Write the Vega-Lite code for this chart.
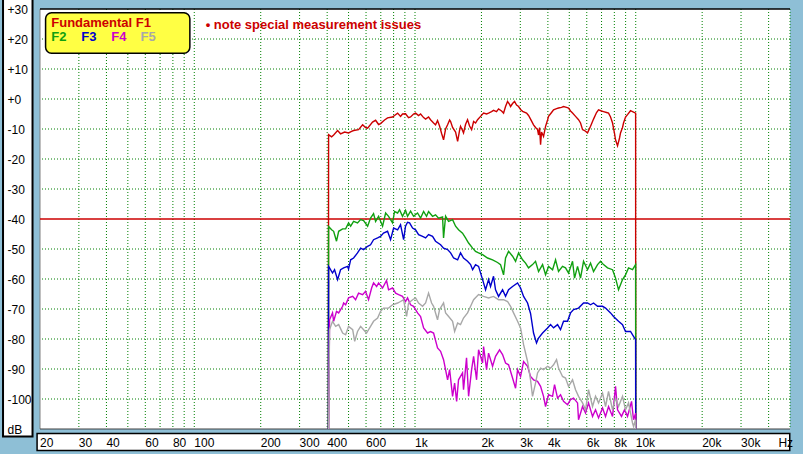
{
"$schema": "https://vega.github.io/schema/vega-lite/v6.json",
"width": 750, "height": 420,
"autosize": {"type": "none"},
"padding": {"left": 40, "top": 9, "right": 13, "bottom": 25},
"background": "#8ebfd6",
"config": {"view": {"fill": "white", "stroke": null}, "font": "Liberation Sans"},
"datasets": {
"F1": [{"f":405,"db":-120},{"f":406,"db":-11.9},{"f":419,"db":-12.6},{"f":428,"db":-12.0},{"f":446,"db":-10.5},{"f":460,"db":-11.6},{"f":480,"db":-11.0},{"f":500,"db":-11.3},{"f":516,"db":-10.8},{"f":527,"db":-10.5},{"f":555,"db":-10.2},{"f":579,"db":-8.6},{"f":597,"db":-9.5},{"f":610,"db":-9.7},{"f":642,"db":-7.7},{"f":663,"db":-7.1},{"f":684,"db":-8.5},{"f":698,"db":-8.2},{"f":728,"db":-7.0},{"f":751,"db":-6.3},{"f":791,"db":-6.0},{"f":808,"db":-5.5},{"f":834,"db":-4.7},{"f":860,"db":-5.8},{"f":878,"db":-5.0},{"f":906,"db":-4.9},{"f":935,"db":-6.2},{"f":955,"db":-6.0},{"f":985,"db":-5.0},{"f":1006,"db":-4.7},{"f":1038,"db":-5.5},{"f":1060,"db":-5.0},{"f":1094,"db":-6.2},{"f":1117,"db":-6.7},{"f":1152,"db":-6.0},{"f":1176,"db":-6.9},{"f":1214,"db":-8.0},{"f":1239,"db":-8.6},{"f":1265,"db":-7.2},{"f":1292,"db":-9.0},{"f":1320,"db":-11.5},{"f":1347,"db":-13.6},{"f":1376,"db":-10.0},{"f":1405,"db":-8.6},{"f":1435,"db":-7.0},{"f":1450,"db":-7.5},{"f":1480,"db":-9.5},{"f":1527,"db":-11.0},{"f":1560,"db":-14.1},{"f":1592,"db":-10.5},{"f":1608,"db":-9.1},{"f":1642,"db":-10.5},{"f":1659,"db":-11.3},{"f":1694,"db":-8.5},{"f":1730,"db":-6.9},{"f":1767,"db":-9.0},{"f":1805,"db":-10.2},{"f":1843,"db":-7.5},{"f":1881,"db":-8.0},{"f":1921,"db":-6.9},{"f":1982,"db":-5.8},{"f":2045,"db":-4.7},{"f":2110,"db":-5.0},{"f":2154,"db":-4.7},{"f":2222,"db":-4.2},{"f":2269,"db":-3.8},{"f":2341,"db":-4.2},{"f":2391,"db":-3.3},{"f":2467,"db":-4.0},{"f":2519,"db":-4.7},{"f":2572,"db":-2.5},{"f":2626,"db":-0.8},{"f":2682,"db":-1.8},{"f":2710,"db":-2.5},{"f":2767,"db":-1.5},{"f":2825,"db":-0.8},{"f":2885,"db":-2.0},{"f":2946,"db":-2.5},{"f":3008,"db":-3.5},{"f":3072,"db":-4.1},{"f":3202,"db":-4.7},{"f":3269,"db":-5.5},{"f":3338,"db":-6.7},{"f":3444,"db":-8.6},{"f":3516,"db":-9.5},{"f":3591,"db":-10.2},{"f":3629,"db":-12.0},{"f":3667,"db":-9.5},{"f":3706,"db":-15.2},{"f":3744,"db":-11.0},{"f":3823,"db":-12.5},{"f":3904,"db":-9.1},{"f":3986,"db":-7.0},{"f":4028,"db":-5.8},{"f":4156,"db":-4.5},{"f":4244,"db":-3.6},{"f":4378,"db":-3.2},{"f":4470,"db":-3.0},{"f":4612,"db":-2.8},{"f":4709,"db":-2.5},{"f":4859,"db":-2.8},{"f":4962,"db":-3.0},{"f":5067,"db":-4.0},{"f":5173,"db":-4.7},{"f":5338,"db":-5.8},{"f":5507,"db":-6.9},{"f":5623,"db":-8.0},{"f":5742,"db":-10.2},{"f":5863,"db":-10.5},{"f":6049,"db":-11.3},{"f":6242,"db":-9.1},{"f":6440,"db":-6.7},{"f":6645,"db":-4.5},{"f":6785,"db":-3.6},{"f":7001,"db":-4.0},{"f":7148,"db":-4.2},{"f":7375,"db":-4.5},{"f":7531,"db":-4.7},{"f":7690,"db":-6.0},{"f":7852,"db":-8.0},{"f":8018,"db":-11.5},{"f":8101,"db":-13.6},{"f":8272,"db":-15.6},{"f":8446,"db":-13.0},{"f":8534,"db":-11.3},{"f":8714,"db":-9.5},{"f":8805,"db":-8.0},{"f":8991,"db":-6.0},{"f":9180,"db":-5.2},{"f":9473,"db":-3.9},{"f":9672,"db":-4.2},{"f":9990,"db":-4.7},{"f":10000,"db":-120}],
"F2": [{"f":405,"db":-120},{"f":406,"db":-42.5},{"f":419,"db":-43.6},{"f":428,"db":-44.1},{"f":441,"db":-47.4},{"f":451,"db":-44.1},{"f":470,"db":-43.3},{"f":485,"db":-43.3},{"f":500,"db":-41.3},{"f":511,"db":-42.4},{"f":527,"db":-40.8},{"f":549,"db":-41.3},{"f":567,"db":-40.2},{"f":585,"db":-40.5},{"f":610,"db":-42.4},{"f":629,"db":-39.7},{"f":649,"db":-38.2},{"f":663,"db":-40.8},{"f":684,"db":-39.1},{"f":713,"db":-42.4},{"f":736,"db":-38.0},{"f":759,"db":-39.1},{"f":791,"db":-41.3},{"f":808,"db":-37.5},{"f":834,"db":-38.0},{"f":851,"db":-36.9},{"f":878,"db":-39.1},{"f":906,"db":-37.1},{"f":925,"db":-39.1},{"f":955,"db":-37.4},{"f":985,"db":-39.1},{"f":1027,"db":-38.0},{"f":1060,"db":-39.7},{"f":1094,"db":-37.5},{"f":1128,"db":-39.1},{"f":1152,"db":-37.5},{"f":1201,"db":-39.1},{"f":1239,"db":-38.6},{"f":1279,"db":-39.7},{"f":1333,"db":-39.3},{"f":1347,"db":-46.3},{"f":1376,"db":-39.1},{"f":1420,"db":-40.8},{"f":1480,"db":-40.2},{"f":1527,"db":-42.4},{"f":1575,"db":-43.6},{"f":1642,"db":-44.7},{"f":1694,"db":-46.3},{"f":1749,"db":-48.0},{"f":1824,"db":-49.7},{"f":1881,"db":-50.8},{"f":1941,"db":-51.3},{"f":2024,"db":-51.9},{"f":2132,"db":-53.0},{"f":2246,"db":-53.6},{"f":2366,"db":-54.5},{"f":2441,"db":-55.2},{"f":2519,"db":-58.6},{"f":2572,"db":-53.0},{"f":2654,"db":-50.8},{"f":2767,"db":-52.4},{"f":2855,"db":-54.1},{"f":2946,"db":-51.3},{"f":3072,"db":-53.6},{"f":3169,"db":-54.7},{"f":3269,"db":-56.3},{"f":3408,"db":-55.2},{"f":3516,"db":-54.1},{"f":3629,"db":-57.5},{"f":3784,"db":-55.2},{"f":3904,"db":-58.6},{"f":4028,"db":-55.8},{"f":4200,"db":-56.9},{"f":4333,"db":-53.6},{"f":4470,"db":-57.5},{"f":4660,"db":-55.8},{"f":4808,"db":-56.3},{"f":4962,"db":-58.0},{"f":5173,"db":-54.1},{"f":5283,"db":-59.7},{"f":5450,"db":-55.8},{"f":5623,"db":-59.7},{"f":5802,"db":-54.1},{"f":6049,"db":-56.9},{"f":6242,"db":-54.7},{"f":6440,"db":-57.5},{"f":6715,"db":-55.2},{"f":6928,"db":-54.1},{"f":7148,"db":-55.2},{"f":7453,"db":-56.3},{"f":7852,"db":-56.9},{"f":8101,"db":-59.7},{"f":8358,"db":-63.6},{"f":8714,"db":-60.2},{"f":8991,"db":-58.6},{"f":9277,"db":-56.3},{"f":9672,"db":-56.9},{"f":9990,"db":-55.2},{"f":10000,"db":-120}],
"F3": [{"f":405,"db":-120},{"f":406,"db":-55.8},{"f":410,"db":-56.3},{"f":423,"db":-58.0},{"f":432,"db":-56.9},{"f":446,"db":-60.2},{"f":460,"db":-56.9},{"f":475,"db":-56.3},{"f":495,"db":-55.8},{"f":500,"db":-56.7},{"f":511,"db":-53.6},{"f":527,"db":-53.0},{"f":549,"db":-51.3},{"f":567,"db":-49.7},{"f":585,"db":-50.2},{"f":610,"db":-49.1},{"f":629,"db":-48.6},{"f":649,"db":-46.9},{"f":677,"db":-46.3},{"f":698,"db":-45.8},{"f":720,"db":-44.7},{"f":751,"db":-44.1},{"f":775,"db":-46.9},{"f":800,"db":-43.0},{"f":834,"db":-43.6},{"f":860,"db":-41.9},{"f":888,"db":-46.9},{"f":906,"db":-42.4},{"f":925,"db":-41.1},{"f":945,"db":-41.3},{"f":975,"db":-43.0},{"f":1006,"db":-43.6},{"f":1038,"db":-45.2},{"f":1082,"db":-45.8},{"f":1117,"db":-46.3},{"f":1152,"db":-45.2},{"f":1201,"db":-45.8},{"f":1239,"db":-47.4},{"f":1306,"db":-48.6},{"f":1347,"db":-49.7},{"f":1405,"db":-50.2},{"f":1450,"db":-51.3},{"f":1496,"db":-53.0},{"f":1560,"db":-53.6},{"f":1608,"db":-51.3},{"f":1659,"db":-53.0},{"f":1730,"db":-54.1},{"f":1786,"db":-55.2},{"f":1824,"db":-56.9},{"f":1881,"db":-55.2},{"f":1941,"db":-55.8},{"f":2024,"db":-60.2},{"f":2088,"db":-63.6},{"f":2154,"db":-60.2},{"f":2199,"db":-62.5},{"f":2269,"db":-59.1},{"f":2317,"db":-63.6},{"f":2391,"db":-65.8},{"f":2493,"db":-63.6},{"f":2572,"db":-65.8},{"f":2654,"db":-63.6},{"f":2767,"db":-62.5},{"f":2915,"db":-61.3},{"f":3008,"db":-63.0},{"f":3104,"db":-65.8},{"f":3236,"db":-68.0},{"f":3338,"db":-71.5},{"f":3444,"db":-78.0},{"f":3553,"db":-81.3},{"f":3629,"db":-79.7},{"f":3784,"db":-78.0},{"f":3986,"db":-76.3},{"f":4113,"db":-75.2},{"f":4244,"db":-76.3},{"f":4424,"db":-75.2},{"f":4564,"db":-76.9},{"f":4709,"db":-74.1},{"f":4910,"db":-74.1},{"f":5067,"db":-71.3},{"f":5228,"db":-70.2},{"f":5507,"db":-69.7},{"f":5802,"db":-68.0},{"f":6049,"db":-68.0},{"f":6242,"db":-68.6},{"f":6440,"db":-68.0},{"f":6715,"db":-69.1},{"f":7074,"db":-69.1},{"f":7299,"db":-69.7},{"f":7690,"db":-71.3},{"f":7934,"db":-72.5},{"f":8358,"db":-74.1},{"f":8714,"db":-75.2},{"f":8991,"db":-77.5},{"f":9473,"db":-77.5},{"f":9773,"db":-79.1},{"f":9990,"db":-80.2},{"f":10000,"db":-120}],
"F4": [{"f":405,"db":-120},{"f":410,"db":-73.6},{"f":423,"db":-71.3},{"f":428,"db":-74.1},{"f":441,"db":-70.8},{"f":451,"db":-71.3},{"f":470,"db":-69.1},{"f":475,"db":-68.0},{"f":485,"db":-68.6},{"f":500,"db":-66.3},{"f":522,"db":-65.8},{"f":538,"db":-66.9},{"f":555,"db":-64.7},{"f":579,"db":-65.2},{"f":597,"db":-64.1},{"f":616,"db":-66.9},{"f":636,"db":-63.0},{"f":649,"db":-61.3},{"f":670,"db":-62.5},{"f":684,"db":-61.3},{"f":713,"db":-63.0},{"f":743,"db":-60.5},{"f":759,"db":-63.6},{"f":791,"db":-63.0},{"f":817,"db":-64.7},{"f":843,"db":-65.2},{"f":878,"db":-65.8},{"f":906,"db":-67.5},{"f":925,"db":-66.3},{"f":955,"db":-68.6},{"f":985,"db":-69.1},{"f":1027,"db":-71.3},{"f":1060,"db":-72.5},{"f":1094,"db":-76.3},{"f":1140,"db":-78.0},{"f":1176,"db":-77.5},{"f":1214,"db":-78.0},{"f":1265,"db":-83.0},{"f":1306,"db":-84.1},{"f":1347,"db":-86.9},{"f":1405,"db":-93.6},{"f":1435,"db":-90.2},{"f":1480,"db":-99.1},{"f":1512,"db":-94.7},{"f":1544,"db":-100.8},{"f":1575,"db":-93.6},{"f":1642,"db":-91.3},{"f":1659,"db":-96.9},{"f":1712,"db":-86.3},{"f":1749,"db":-99.1},{"f":1805,"db":-90.2},{"f":1843,"db":-85.8},{"f":1901,"db":-93.6},{"f":1941,"db":-83.6},{"f":2024,"db":-88.0},{"f":2045,"db":-82.5},{"f":2110,"db":-90.2},{"f":2154,"db":-84.7},{"f":2246,"db":-89.1},{"f":2317,"db":-85.8},{"f":2416,"db":-83.6},{"f":2493,"db":-85.2},{"f":2572,"db":-88.0},{"f":2654,"db":-88.6},{"f":2767,"db":-93.0},{"f":2855,"db":-96.4},{"f":2915,"db":-90.2},{"f":3008,"db":-92.5},{"f":3104,"db":-87.5},{"f":3236,"db":-89.1},{"f":3338,"db":-92.5},{"f":3444,"db":-93.6},{"f":3591,"db":-94.1},{"f":3706,"db":-95.8},{"f":3823,"db":-99.1},{"f":3904,"db":-102.5},{"f":4028,"db":-98.6},{"f":4200,"db":-99.1},{"f":4288,"db":-95.2},{"f":4424,"db":-99.7},{"f":4564,"db":-98.6},{"f":4709,"db":-100.8},{"f":4910,"db":-101.9},{"f":5067,"db":-100.2},{"f":5228,"db":-99.7},{"f":5450,"db":-101.3},{"f":5507,"db":-106.9},{"f":5742,"db":-102.5},{"f":5924,"db":-104.7},{"f":6113,"db":-101.3},{"f":6373,"db":-105.8},{"f":6576,"db":-103.6},{"f":6785,"db":-106.3},{"f":7074,"db":-103.0},{"f":7299,"db":-105.8},{"f":7531,"db":-102.5},{"f":7852,"db":-105.8},{"f":8101,"db":-95.8},{"f":8272,"db":-103.6},{"f":8624,"db":-105.8},{"f":8898,"db":-103.6},{"f":9180,"db":-105.8},{"f":9572,"db":-100.8},{"f":9773,"db":-106.9},{"f":9990,"db":-104.7},{"f":10000,"db":-120}],
"F5": [{"f":405,"db":-120},{"f":410,"db":-76.9},{"f":423,"db":-74.1},{"f":437,"db":-75.8},{"f":451,"db":-75.2},{"f":470,"db":-78.0},{"f":485,"db":-78.6},{"f":500,"db":-75.8},{"f":522,"db":-76.9},{"f":533,"db":-80.8},{"f":549,"db":-77.5},{"f":567,"db":-75.8},{"f":585,"db":-76.9},{"f":603,"db":-78.0},{"f":629,"db":-75.8},{"f":649,"db":-74.1},{"f":677,"db":-73.0},{"f":698,"db":-70.8},{"f":720,"db":-69.7},{"f":759,"db":-69.7},{"f":791,"db":-68.6},{"f":834,"db":-68.0},{"f":860,"db":-67.5},{"f":888,"db":-66.9},{"f":916,"db":-72.5},{"f":935,"db":-68.0},{"f":975,"db":-66.9},{"f":1006,"db":-66.3},{"f":1038,"db":-68.0},{"f":1082,"db":-69.1},{"f":1117,"db":-68.0},{"f":1152,"db":-64.7},{"f":1189,"db":-68.0},{"f":1214,"db":-69.1},{"f":1265,"db":-73.6},{"f":1292,"db":-70.2},{"f":1347,"db":-68.0},{"f":1376,"db":-71.3},{"f":1420,"db":-72.5},{"f":1480,"db":-74.1},{"f":1512,"db":-77.5},{"f":1560,"db":-74.7},{"f":1608,"db":-75.2},{"f":1659,"db":-73.0},{"f":1730,"db":-71.3},{"f":1786,"db":-69.1},{"f":1843,"db":-66.9},{"f":1941,"db":-65.2},{"f":2045,"db":-65.8},{"f":2154,"db":-66.3},{"f":2269,"db":-65.8},{"f":2391,"db":-66.9},{"f":2519,"db":-66.9},{"f":2626,"db":-67.5},{"f":2710,"db":-69.1},{"f":2796,"db":-71.3},{"f":2915,"db":-74.1},{"f":3008,"db":-76.3},{"f":3104,"db":-81.9},{"f":3236,"db":-87.5},{"f":3338,"db":-93.6},{"f":3408,"db":-99.1},{"f":3516,"db":-94.7},{"f":3591,"db":-91.3},{"f":3706,"db":-89.7},{"f":3823,"db":-90.2},{"f":3986,"db":-89.1},{"f":4113,"db":-89.7},{"f":4244,"db":-88.6},{"f":4378,"db":-86.9},{"f":4470,"db":-89.7},{"f":4660,"db":-92.5},{"f":4808,"db":-93.0},{"f":4962,"db":-95.8},{"f":5173,"db":-93.6},{"f":5338,"db":-96.9},{"f":5507,"db":-99.1},{"f":5742,"db":-101.3},{"f":5924,"db":-103.6},{"f":6113,"db":-96.9},{"f":6373,"db":-102.5},{"f":6576,"db":-99.1},{"f":6785,"db":-101.3},{"f":7074,"db":-98.0},{"f":7299,"db":-102.5},{"f":7531,"db":-97.5},{"f":7852,"db":-103.6},{"f":8101,"db":-99.7},{"f":8358,"db":-102.5},{"f":8714,"db":-99.1},{"f":8991,"db":-103.6},{"f":9277,"db":-101.3},{"f":9672,"db":-108.0},{"f":9773,"db":-109.1},{"f":9990,"db":-106.9},{"f":10000,"db":-120}],
"ylabels": [{"v":30,"t":"+30"},{"v":20,"t":"+20"},{"v":10,"t":"+10"},{"v":0,"t":"+0"},{"v":-10,"t":"-10"},{"v":-20,"t":"-20"},{"v":-30,"t":"-30"},{"v":-40,"t":"-40"},{"v":-50,"t":"-50"},{"v":-60,"t":"-60"},{"v":-70,"t":"-70"},{"v":-80,"t":"-80"},{"v":-90,"t":"-90"},{"v":-100,"t":"-100"},{"v":-110,"t":"dB"}],
"xlabels": [{"f":20,"t":"20"},{"f":30,"t":"30"},{"f":40,"t":"40"},{"f":60,"t":"60"},{"f":80,"t":"80"},{"f":100,"t":"100"},{"f":200,"t":"200"},{"f":300,"t":"300"},{"f":400,"t":"400"},{"f":600,"t":"600"},{"f":1000,"t":"1k"},{"f":2000,"t":"2k"},{"f":3000,"t":"3k"},{"f":4000,"t":"4k"},{"f":6000,"t":"6k"},{"f":8000,"t":"8k"},{"f":10000,"t":"10k"},{"f":20000,"t":"20k"},{"f":30000,"t":"30k"},{"f":44300,"t":"Hz"}]
},
"layer": [
{"data": {"values": [{}]},
 "mark": {"type": "rect", "fill": "white", "stroke": "black", "strokeWidth": 2, "clip": false},
 "encoding": {"x": {"datum": 13.6, "type": "quantitative", "scale": {"type": "log", "domain": [20, 50000], "nice": false}, "axis": null},
  "x2": {"datum": 18.5},
  "y": {"datum": 36, "type": "quantitative", "scale": {"domain": [-110, 30], "nice": false, "zero": false}, "axis": null},
  "y2": {"datum": -112.5}}},
{"data": {"values": [{}]},
 "mark": {"type": "rect", "fill": "white", "stroke": "black", "strokeWidth": 1.5, "clip": false},
 "encoding": {"x": {"datum": 19.4, "type": "quantitative", "scale": {"type": "log", "domain": [20, 50000], "nice": false}, "axis": null},
  "x2": {"datum": 49870},
  "y": {"datum": -111.5, "type": "quantitative", "scale": {"domain": [-110, 30], "nice": false, "zero": false}, "axis": null},
  "y2": {"datum": -117.2}}},
{"data": {"name": "ylabels"},
 "mark": {"type": "text", "align": "left", "baseline": "middle", "fontSize": 12, "font": "Liberation Sans", "color": "black", "dy": 1},
 "encoding": {"x": {"datum": 14.25, "type": "quantitative", "scale": {"type": "log", "domain": [20, 50000], "nice": false}, "axis": null},
  "y": {"field": "v", "type": "quantitative", "scale": {"domain": [-110, 30], "nice": false, "zero": false}, "axis": null},
  "text": {"field": "t"}}},
{"data": {"name": "xlabels"},
 "mark": {"type": "text", "align": "left", "baseline": "alphabetic", "fontSize": 12, "font": "Liberation Sans", "color": "black"},
 "encoding": {"x": {"field": "f", "type": "quantitative", "scale": {"type": "log", "domain": [20, 50000], "nice": false}, "axis": null},
  "y": {"datum": -116.1, "type": "quantitative", "scale": {"domain": [-110, 30], "nice": false, "zero": false}, "axis": null},
  "text": {"field": "t"}}},
{"data": {"values": [{"g":30},{"g":40},{"g":50},{"g":60},{"g":70},{"g":80},{"g":90},{"g":100},{"g":200},{"g":300},{"g":400},{"g":500},{"g":600},{"g":700},{"g":800},{"g":900},{"g":1000},{"g":2000},{"g":3000},{"g":4000},{"g":5000},{"g":6000},{"g":7000},{"g":8000},{"g":9000},{"g":10000},{"g":20000},{"g":30000},{"g":40000},{"g":50000}]},
 "mark": {"type": "rule", "color": "#008000", "strokeWidth": 1, "strokeDash": [1, 2]},
 "encoding": {"x": {"field": "g", "type": "quantitative", "scale": {"type": "log", "domain": [20, 50000], "nice": false}, "axis": null}}},
{"data": {"values": [{"v":-100},{"v":-90},{"v":-80},{"v":-70},{"v":-60},{"v":-50},{"v":-30},{"v":-20},{"v":-10},{"v":0},{"v":10},{"v":20}]},
 "mark": {"type": "rule", "color": "#008000", "strokeWidth": 1, "strokeDash": [1, 2]},
 "encoding": {"y": {"field": "v", "type": "quantitative", "scale": {"domain": [-110, 30], "nice": false, "zero": false}, "axis": null}}},
{"data": {"values": [{}]},
 "mark": {"type": "rule", "color": "#808080", "strokeWidth": 1},
 "encoding": {"x": {"datum": 20, "type": "quantitative", "scale": {"type": "log", "domain": [20, 50000], "nice": false}, "axis": null}}},
{"data": {"values": [{}]},
 "mark": {"type": "rule", "color": "black", "strokeWidth": 1.5},
 "encoding": {"y": {"datum": 30, "type": "quantitative", "scale": {"domain": [-110, 30], "nice": false, "zero": false}, "axis": null}}},
{"data": {"values": [{}]},
 "mark": {"type": "rule", "color": "#404040", "strokeWidth": 1},
 "encoding": {"y": {"datum": -110, "type": "quantitative", "scale": {"domain": [-110, 30], "nice": false, "zero": false}, "axis": null}}},
{"data": {"values": [{}]},
 "mark": {"type": "rule", "color": "#cc0000", "strokeWidth": 1.6},
 "encoding": {"y": {"datum": -40, "type": "quantitative", "scale": {"domain": [-110, 30], "nice": false, "zero": false}, "axis": null}}},
{"data": {"name": "F1"},
 "mark": {"type": "line", "color": "#cc0000", "strokeWidth": 1.4, "clip": true},
 "encoding": {"x": {"field": "f", "type": "quantitative", "scale": {"type": "log", "domain": [20, 50000], "nice": false}, "axis": null},
  "y": {"field": "db", "type": "quantitative", "scale": {"domain": [-110, 30], "nice": false, "zero": false}, "axis": null}}},
{"data": {"name": "F2"},
 "mark": {"type": "line", "color": "#10a010", "strokeWidth": 1.4, "clip": true},
 "encoding": {"x": {"field": "f", "type": "quantitative", "scale": {"type": "log", "domain": [20, 50000], "nice": false}, "axis": null},
  "y": {"field": "db", "type": "quantitative", "scale": {"domain": [-110, 30], "nice": false, "zero": false}, "axis": null}}},
{"data": {"name": "F3"},
 "mark": {"type": "line", "color": "#0000cc", "strokeWidth": 1.4, "clip": true},
 "encoding": {"x": {"field": "f", "type": "quantitative", "scale": {"type": "log", "domain": [20, 50000], "nice": false}, "axis": null},
  "y": {"field": "db", "type": "quantitative", "scale": {"domain": [-110, 30], "nice": false, "zero": false}, "axis": null}}},
{"data": {"name": "F4"},
 "mark": {"type": "line", "color": "#cc00cc", "strokeWidth": 1.4, "clip": true},
 "encoding": {"x": {"field": "f", "type": "quantitative", "scale": {"type": "log", "domain": [20, 50000], "nice": false}, "axis": null},
  "y": {"field": "db", "type": "quantitative", "scale": {"domain": [-110, 30], "nice": false, "zero": false}, "axis": null}}},
{"data": {"name": "F5"},
 "mark": {"type": "line", "color": "#a8a8a8", "strokeWidth": 1.4, "clip": true},
 "encoding": {"x": {"field": "f", "type": "quantitative", "scale": {"type": "log", "domain": [20, 50000], "nice": false}, "axis": null},
  "y": {"field": "db", "type": "quantitative", "scale": {"domain": [-110, 30], "nice": false, "zero": false}, "axis": null}}},
{"data": {"values": [{}]},
 "mark": {"type": "rect", "fill": "#ffff44", "stroke": "black", "strokeWidth": 1.5, "cornerRadius": 6},
 "encoding": {"x": {"datum": 21.2, "type": "quantitative", "scale": {"type": "log", "domain": [20, 50000], "nice": false}, "axis": null},
  "x2": {"datum": 95.5},
  "y": {"datum": 28.77, "type": "quantitative", "scale": {"domain": [-110, 30], "nice": false, "zero": false}, "axis": null},
  "y2": {"datum": 15.23}}},
{"data": {"values": [{"t": "Fundamental F1"}]},
 "mark": {"type": "text", "color": "#cc0000", "fontWeight": "bold", "fontSize": 13, "align": "left", "baseline": "alphabetic", "font": "Liberation Sans"},
 "encoding": {"x": {"datum": 22.49, "type": "quantitative", "scale": {"type": "log", "domain": [20, 50000], "nice": false}, "axis": null},
  "y": {"datum": 23.9, "type": "quantitative", "scale": {"domain": [-110, 30], "nice": false, "zero": false}, "axis": null},
  "text": {"field": "t"}}},
{"data": {"values": [{"t": "F2"}]},
 "mark": {"type": "text", "color": "#10a010", "fontWeight": "bold", "fontSize": 13, "align": "left", "baseline": "alphabetic", "font": "Liberation Sans"},
 "encoding": {"x": {"datum": 22.49, "type": "quantitative", "scale": {"type": "log", "domain": [20, 50000], "nice": false}, "axis": null},
  "y": {"datum": 19.17, "type": "quantitative", "scale": {"domain": [-110, 30], "nice": false, "zero": false}, "axis": null},
  "text": {"field": "t"}}},
{"data": {"values": [{"t": "F3"}]},
 "mark": {"type": "text", "color": "#0000cc", "fontWeight": "bold", "fontSize": 13, "align": "left", "baseline": "alphabetic", "font": "Liberation Sans"},
 "encoding": {"x": {"datum": 30.77, "type": "quantitative", "scale": {"type": "log", "domain": [20, 50000], "nice": false}, "axis": null},
  "y": {"datum": 19.17, "type": "quantitative", "scale": {"domain": [-110, 30], "nice": false, "zero": false}, "axis": null},
  "text": {"field": "t"}}},
{"data": {"values": [{"t": "F4"}]},
 "mark": {"type": "text", "color": "#cc00cc", "fontWeight": "bold", "fontSize": 13, "align": "left", "baseline": "alphabetic", "font": "Liberation Sans"},
 "encoding": {"x": {"datum": 42.07, "type": "quantitative", "scale": {"type": "log", "domain": [20, 50000], "nice": false}, "axis": null},
  "y": {"datum": 19.17, "type": "quantitative", "scale": {"domain": [-110, 30], "nice": false, "zero": false}, "axis": null},
  "text": {"field": "t"}}},
{"data": {"values": [{"t": "F5"}]},
 "mark": {"type": "text", "color": "#a8a8a8", "fontWeight": "bold", "fontSize": 13, "align": "left", "baseline": "alphabetic", "font": "Liberation Sans"},
 "encoding": {"x": {"datum": 57.1, "type": "quantitative", "scale": {"type": "log", "domain": [20, 50000], "nice": false}, "axis": null},
  "y": {"datum": 19.17, "type": "quantitative", "scale": {"domain": [-110, 30], "nice": false, "zero": false}, "axis": null},
  "text": {"field": "t"}}},
{"data": {"values": [{"t": "• note special measurement issues"}]},
 "mark": {"type": "text", "color": "#cc0000", "fontWeight": "bold", "fontSize": 13, "align": "left", "baseline": "alphabetic", "font": "Liberation Sans"},
 "encoding": {"x": {"datum": 112.6, "type": "quantitative", "scale": {"type": "log", "domain": [20, 50000], "nice": false}, "axis": null},
  "y": {"datum": 23.33, "type": "quantitative", "scale": {"domain": [-110, 30], "nice": false, "zero": false}, "axis": null},
  "text": {"field": "t"}}}
]
}
